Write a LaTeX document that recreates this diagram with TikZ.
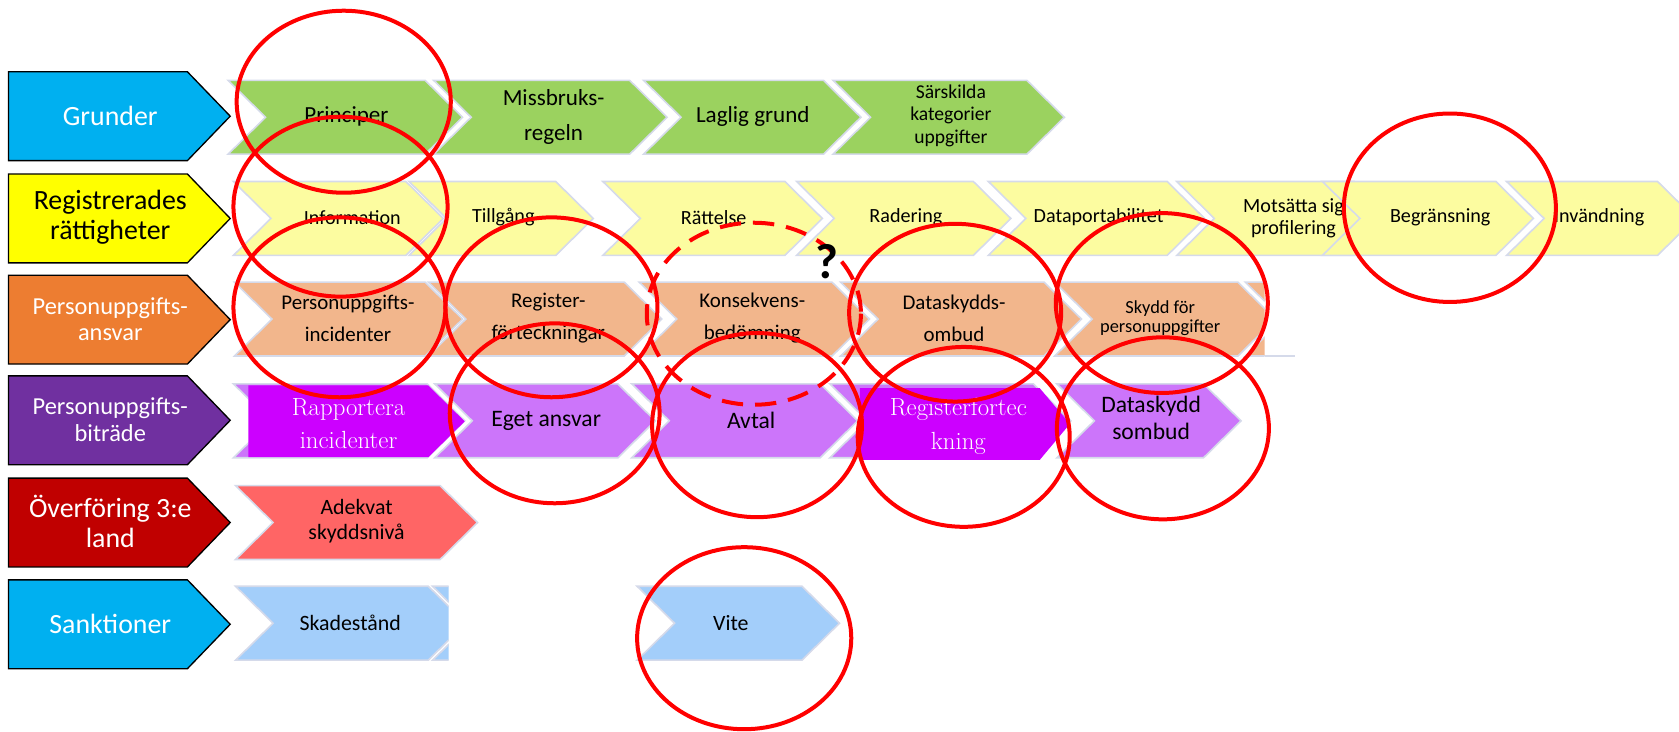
\documentclass[tikz,border=0pt]{standalone}
\usepackage{fontspec}
\setsansfont{Carlito}

\definecolor{hblue}{HTML}{00B0F0}
\definecolor{hyellow}{HTML}{FFFF00}
\definecolor{horange}{HTML}{ED7D31}
\definecolor{hpurple}{HTML}{7030A0}
\definecolor{hred}{HTML}{C00000}
\definecolor{cgreen}{HTML}{9BD25F}
\definecolor{cyellow}{HTML}{FCFCA0}
\definecolor{corange}{HTML}{F2B68C}
\definecolor{cpurple}{HTML}{CC75FA}
\definecolor{cmagenta}{HTML}{CC00FF}
\definecolor{cred}{HTML}{FF6565}
\definecolor{cblue}{HTML}{A3CEFA}
\definecolor{cline}{HTML}{D5DAEA}
\definecolor{ringred}{HTML}{FF0000}

\tikzset{
  rubrik/.style={draw=black, line width=1pt},
  pil/.style={draw=cline, line width=1.2pt},
  ring/.style={draw=ringred, line width=3pt},
  hbig/.style={font=\sffamily\fontsize{20.9}{22.5}\selectfont, text=white, align=center, inner sep=0pt},
  hsmall/.style={font=\sffamily\fontsize{18.3}{19.8}\selectfont, text=white, align=center, inner sep=0pt},
  ta/.style={font=\sffamily\fontsize{17.3}{26}\selectfont, align=center, inner sep=0pt},
  tas/.style={font=\sffamily\fontsize{14.7}{16.9}\selectfont, align=center, inner sep=0pt},
  tb/.style={font=\sffamily\fontsize{15.1}{16.5}\selectfont, align=center, inner sep=0pt},
  tc/.style={font=\sffamily\fontsize{15.7}{24}\selectfont, align=center, inner sep=0pt},
  tcs/.style={font=\sffamily\fontsize{13.8}{14.5}\selectfont, align=center, inner sep=0pt},
  td/.style={font=\sffamily\fontsize{17.7}{20}\selectfont, align=center, inner sep=0pt},
  tser/.style={font=\rmfamily\fontsize{18.6}{25}\selectfont, text=white, align=center, inner sep=0pt},
  te/.style={font=\sffamily\fontsize{16.4}{18.6}\selectfont, align=center, inner sep=0pt}
}

% rubrikpil: färg, mitt y
\newcommand{\rubrikpil}[2]{%
  \draw[rubrik, fill=#1] (8,#2-41.5) -- (175,#2-41.5) -- (215,#2) -- (175,#2+41.5) -- (8,#2+41.5) -- cycle;}
% chevron: färg, vänster, spets, mitt y
\newcommand{\chevpil}[4]{%
  \draw[pil, fill=#1] (#2,#4-34.5) -- (#3-35,#4-34.5) -- (#3,#4) -- (#3-35,#4+34.5) -- (#2,#4+34.5) -- (#2+35,#4) -- cycle;}
% rak pil: färg, vänster, spetsstart, spets, mitt y
\newcommand{\rutpil}[5]{%
  \fill[#1] (#2,#5-33.5) -- (#3,#5-33.5) -- (#4,#5) -- (#3,#5+33.5) -- (#2,#5+33.5) -- cycle;}

\begin{document}
\begin{tikzpicture}[x=0.8031pt, y=-0.8031pt, font=\sffamily]
\useasboundingbox (0,0) rectangle (1568,683);

%rubriker
\rubrikpil{hblue}{108.5}
\rubrikpil{hyellow}{204}
\rubrikpil{horange}{298.5}
\rubrikpil{hpurple}{392.5}
\rubrikpil{hred}{488}
\rubrikpil{hblue}{583}
\node[hbig] (grunder) at (103,108.5) {Grunder};
\node[hbig, text=black] (rattigheter) at (103,202.5) {Registrerades\\rättigheter};
\node[hsmall] (ansvar) at (103,298) {Personuppgifts-\\ansvar};
\node[hsmall] (bitrade) at (103,392) {Personuppgifts-\\biträde};
\node[hbig] (overforing) at (103,487) {Överföring 3:e\\land};
\node[hbig] (sanktioner) at (103,582.5) {Sanktioner};

%rad 1
\chevpil{cgreen}{213}{432}{109.5}
\chevpil{cgreen}{405}{623}{109.5}
\chevpil{cgreen}{601}{804}{109.5}
\chevpil{cgreen}{778}{994}{109.5}
\node[ta] (principer) at (323.5,109) {Principer};
\node[ta] (missbruk) at (517,109.5) {Missbruks-\\regeln};
\node[ta] (laglig) at (703,108.5) {Laglig grund};
\node[tas] (sarskilda) at (888,108) {Särskilda\\kategorier\\uppgifter};

%rad 2
\chevpil{cyellow}{218}{414}{204}
\chevpil{cyellow}{382}{554}{204}
\chevpil{cyellow}{563}{768}{204}
\chevpil{cyellow}{744}{944}{204}
\chevpil{cyellow}{923}{1125}{204}
\chevpil{cyellow}{1099}{1300}{204}
\node[tb] (motsatta) at (1208,204) {Motsätta sig\\profilering};
\chevpil{cyellow}{1235}{1432}{204}
\chevpil{cyellow}{1407}{1583}{204}
\node[tb] (information) at (329,203) {Information};
\node[tb] (tillgang) at (470,203) {Tillgång};
\node[tb] (rattelse) at (666.5,203) {Rättelse};
\node[tb] (radering) at (846,203) {Radering};
\node[tb] (portabilitet) at (1026,203) {Dataportabilitet};
\node[tb] (begransning) at (1345,203) {Begränsning};
\node[tb] (invandning) at (1493.5,203) {Invändning};

%rad 3
\chevpil{corange}{219}{432}{298}
\chevpil{corange}{400}{618}{298}
\chevpil{corange}{597}{812}{298}
\chevpil{corange}{785}{1010}{298}
\begin{scope}
\clip (950,250) rectangle (1181,345);
\chevpil{corange}{985}{1191}{298}
\chevpil{corange}{1163}{1380}{298}
\end{scope}
\draw[pil] (1181,332.5) -- (1209,332.5);
\node[tc] (incidenter) at (325,297) {Personuppgifts-\\incidenter};
\node[tc] (register) at (512,297) {Register-\\förteckningar};
\node[tc] (konsekvens) at (702.5,297) {Konsekvens-\\bedömning};
\node[tc] (ombud) at (891,297) {Dataskydds-\\ombud};
\node[tcs] (skydd) at (1083.5,297) {Skydd för\\personuppgifter};

%rad 4
\chevpil{cpurple}{218}{434}{393}
\rutpil{cmagenta}{232}{400}{434}{393.5}
\chevpil{cpurple}{406}{612}{393}
\chevpil{cpurple}{590}{801}{393}
\chevpil{cpurple}{775}{1000}{393}
\rutpil{cmagenta}{803}{971}{999}{396}
\chevpil{cpurple}{987}{1159}{393}
\node[tser] (rapportera) at (325.5,395.5) {Rapportera\\incidenter};
\node[td] (eget) at (510,393) {Eget ansvar};
\node[td] (avtal) at (701.5,393) {Avtal};
\node[tser] (regforteck) at (895,398) {Registerfortec\\kning};
\node[td] (sombud) at (1075,390) {Dataskydd\\sombud};

%rad 5
\chevpil{cred}{220}{446}{488}
\node[te] (adekvat) at (333,487) {Adekvat\\skyddsnivå};

%rad 6
\begin{scope}
\clip (200,540) rectangle (419,625);
\chevpil{cblue}{220}{435}{582}
\chevpil{cblue}{404}{620}{582}
\end{scope}
\chevpil{cblue}{595}{784}{582}
\node[te] (skadestand) at (327,582) {Skadestånd};
\node[te] (vite) at (682.5,582) {Vite};

%ringar
\draw[ring] (321,95) ellipse [x radius=100, y radius=85];
\draw[ring] (318,193) ellipse [x radius=100, y radius=84];
\draw[ring] (317,287) ellipse [x radius=99, y radius=84];
\draw[ring] (515,287) ellipse [x radius=99, y radius=84];
\draw[ring] (518,386) ellipse [x radius=98, y radius=84];
\draw[ring, dash pattern=on 16pt off 9pt] (704,293) ellipse [x radius=100, y radius=85];
\draw[ring] (707,397) ellipse [x radius=98, y radius=86];
\draw[ring] (892,292) ellipse [x radius=99, y radius=83];
\draw[ring] (900,408) ellipse [x radius=99, y radius=84];
\draw[ring] (1085,283) ellipse [x radius=99, y radius=84];
\draw[ring] (1086,400) ellipse [x radius=99, y radius=85];
\draw[ring] (1354,194) ellipse [x radius=99, y radius=88];
\draw[ring] (695,596) ellipse [x radius=100, y radius=85];
\node[font=\sffamily\bfseries\fontsize{37}{37}\selectfont, inner sep=0pt] (fraga) at (772,244) {?};

\end{tikzpicture}
\end{document}
